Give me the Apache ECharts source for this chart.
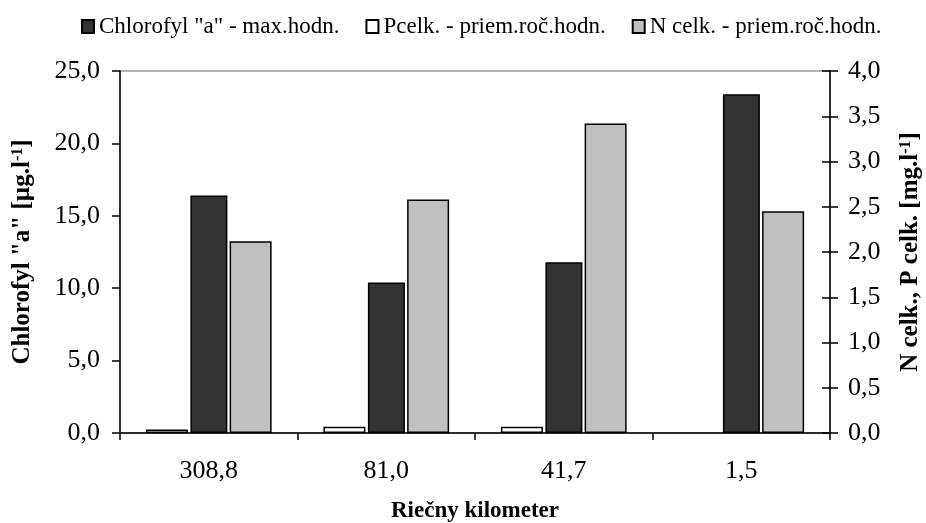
<!DOCTYPE html>
<html>
<head>
<meta charset="utf-8">
<script src="https://cdn.jsdelivr.net/npm/echarts@6/dist/echarts.min.js"></script>
<style>
  html, body { margin: 0; padding: 0; background: #fff; }
  #chart { width: 926px; height: 523px; }
</style>
</head>
<body>
<div id="chart"></div>
<script>
// data
var categories = ['308,8', '81,0', '41,7', '1,5'];
var chlorofyl = [16.4, 10.4, 11.8, 23.4];   // left axis, µg/l
var pCelk = [0.04, 0.07, 0.07, null];       // right axis, mg/l
var nCelk = [2.12, 2.58, 3.42, 2.45];       // right axis, mg/l

var FONT = '"Liberation Serif", "Times New Roman", serif';

function comma(v) {
  return v.toFixed(1).replace('.', ',');
}

var nameRich = {
  a: { fontFamily: FONT, fontSize: 25, fontWeight: 'bold', color: '#000' },
  s: { fontFamily: FONT, fontSize: 16, fontWeight: 'bold', color: '#000', verticalAlign: 'top', padding: [0, 0, 10, 0] }
};

var chart = echarts.init(document.getElementById('chart'));

var option = {
  animation: false,
  textStyle: { fontFamily: FONT, color: '#000' },
  legend: {
    top: 10,
    left: 76,
    icon: 'rect',
    itemWidth: 12,
    itemHeight: 13,
    itemGap: 26,
    textStyle: { fontFamily: FONT, fontSize: 23, color: '#000' },
    data: ['Chlorofyl "a" - max.hodn.', 'Pcelk. - priem.roč.hodn.', 'N celk. - priem.roč.hodn.']
  },
  grid: {
    left: 120, right: 96, top: 71, bottom: 90,
    outerBoundsMode: 'none',
    show: true, borderColor: '#9a9a9a', borderWidth: 1.5
  },
  xAxis: {
    type: 'category',
    data: categories,
    name: 'Riečny kilometer',
    nameLocation: 'middle',
    nameGap: 67,
    nameTextStyle: { fontFamily: FONT, fontSize: 23, fontWeight: 'bold', color: '#000' },
    axisLine: { lineStyle: { color: '#000', width: 1.5 } },
    axisTick: { show: true, length: 7, lineStyle: { color: '#000', width: 1.5 } },
    axisLabel: { fontFamily: FONT, fontSize: 26, color: '#000', margin: 25 }
  },
  yAxis: [
    {
      type: 'value',
      min: 0, max: 25, interval: 5,
      position: 'left',
      name: '{a|Chlorofyl "a" [µg.l}{s|-1}{a|]}',
      nameLocation: 'middle',
      nameGap: 84,
      nameRotate: 90,
      nameTextStyle: { rich: nameRich },
      axisLine: { show: true, lineStyle: { color: '#000', width: 1.5 } },
      axisTick: { show: true, length: 8, lineStyle: { color: '#000', width: 1.5 } },
      axisLabel: { fontFamily: FONT, fontSize: 26, color: '#000', margin: 20, formatter: comma },
      splitLine: { show: false }
    },
    {
      type: 'value',
      min: 0, max: 4, interval: 0.5,
      position: 'right',
      name: '{a|N celk., P celk. [mg.l}{s|-1}{a|]}',
      nameLocation: 'middle',
      nameGap: 68,
      nameRotate: 90,
      nameTextStyle: { rich: nameRich },
      axisLine: { show: true, lineStyle: { color: '#000', width: 1.5 } },
      axisTick: { show: true, length: 8, lineStyle: { color: '#000', width: 1.5 } },
      axisLabel: { fontFamily: FONT, fontSize: 26, color: '#000', margin: 18, formatter: comma },
      splitLine: { show: false }
    },
    {
      // inner half of the crossing ticks on the right axis
      type: 'value',
      min: 0, max: 4, interval: 0.5,
      position: 'right',
      axisLine: { show: false },
      axisTick: { show: true, inside: true, length: 8, lineStyle: { color: '#000', width: 1.5 } },
      axisLabel: { show: false },
      splitLine: { show: false }
    }
  ],
  series: [
    {
      name: 'Pcelk. - priem.roč.hodn.',
      type: 'bar',
      yAxisIndex: 1,
      data: pCelk,
      barWidth: 42,
      barGap: '6%',
      itemStyle: { color: '#ffffff', borderColor: '#000', borderWidth: 1.5 }
    },
    {
      name: 'Chlorofyl "a" - max.hodn.',
      type: 'bar',
      yAxisIndex: 0,
      data: chlorofyl,
      barWidth: 37,
      barGap: '6%',
      itemStyle: { color: '#333333', borderColor: '#000', borderWidth: 1.5 }
    },
    {
      name: 'N celk. - priem.roč.hodn.',
      type: 'bar',
      yAxisIndex: 1,
      data: nCelk,
      barWidth: 42,
      barGap: '6%',
      itemStyle: { color: '#c0c0c0', borderColor: '#000', borderWidth: 1.5 }
    }
  ]
};

chart.setOption(option);
</script>
</body>
</html>
